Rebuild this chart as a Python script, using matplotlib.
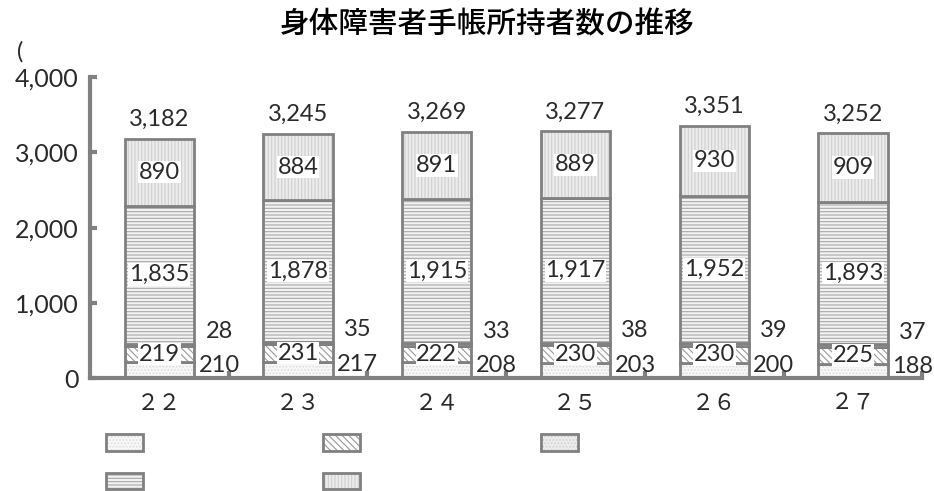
import numpy as np
import matplotlib.pyplot as plt
from matplotlib.patches import Patch

plt.rcParams['font.family'] = ['Lato', 'Noto Sans CJK JP', 'DejaVu Sans']
plt.rcParams['hatch.linewidth'] = 0.8

years = ['２２', '２３', '２４', '２５', '２６', '２７']
seg1 = [210, 217, 208, 203, 200, 188]
seg3 = [28, 35, 33, 38, 39, 37]
seg2 = [219, 231, 222, 230, 230, 225]
seg4 = [1835, 1878, 1915, 1917, 1952, 1893]
seg5 = [890, 884, 891, 889, 930, 909]
totals = [3182, 3245, 3269, 3277, 3351, 3252]

# stacking order from bottom
stack = [seg1, seg2, seg3, seg4, seg5]
faces = ['#f7f7f7', '#ffffff', '#ececec', '#f2f2f2', '#ececec']
hatches = ['.....', '\\\\\\\\\\', '.....', '-----', '|||||']
hcolors = ['#dddddd', '#9a9a9a', '#d0d0d0', '#a8a8a8', '#cfcfcf']
edge = '#808080'
txt = '#2a2a2a'

fig = plt.figure(figsize=(9.34, 4.91), dpi=100)
ax = fig.add_axes([0.0964, 0.230, 0.891, 0.613])

x = np.arange(len(years))
w = 0.5
bottom = np.zeros(len(years))
for vals, fc, hh, hc in zip(stack, faces, hatches, hcolors):
    v = np.array(vals)
    ax.bar(x, v, w, bottom=bottom, color=fc, hatch=hh, edgecolor=hc, linewidth=0)
    ax.bar(x, v, w, bottom=bottom, fill=False, edgecolor=edge, linewidth=2)
    bottom += v

lab = dict(ha='center', va='center', fontsize=17, color=txt)
box = dict(facecolor='white', edgecolor='none', pad=0.5)
b1 = np.array(seg1)
b2 = b1 + np.array(seg2)
b3 = b2 + np.array(seg3)
b4 = b3 + np.array(seg4)
for i in x:
    ax.text(i, b1[i] + seg2[i] / 2, f'{seg2[i]:,}', bbox=box, **lab)
    ax.text(i, b3[i] + seg4[i] / 2, f'{seg4[i]:,}', bbox=box, **lab)
    ax.text(i, b4[i] + seg5[i] / 2, f'{seg5[i]:,}', bbox=box, **lab)
    ax.text(i + 0.43, seg1[i] * 0.82, f'{seg1[i]:,}', **lab)
    ax.text(i + 0.43, b3[i] + 160, f'{seg3[i]:,}', **lab)
    ax.annotate(f'{totals[i]:,}', (i, totals[i]), xytext=(0, 14),
                textcoords='offset points', **lab)

ax.set_xlim(-0.5, len(years) - 0.5)
ax.set_ylim(0, 4000)
ax.set_yticks(range(0, 4001, 1000))
ax.set_yticklabels([f'{v:,}' for v in range(0, 4001, 1000)], fontsize=18, color=txt)
ax.set_xticks(x)
ax.set_xticklabels(years, fontsize=16, color=txt, family=['Noto Sans CJK JP'])
ax.xaxis.set_minor_locator(plt.FixedLocator(np.arange(0.5, len(years), 1.0)))
ax.tick_params(axis='x', which='major', length=0, pad=10)
ax.tick_params(axis='x', which='minor', direction='in', length=5, width=3, color=edge)
ax.tick_params(axis='y', direction='in', length=5, width=3, color=edge, pad=8)
for s in ['top', 'right']:
    ax.spines[s].set_visible(False)
for s in ['left', 'bottom']:
    ax.spines[s].set_color(edge)
    ax.spines[s].set_linewidth(3)

fig.text(0.522, 0.95, '身体障害者手帳所持者数の推移', ha='center', va='center',
         fontsize=21.3, fontweight='medium', family=['Noto Sans CJK JP'])
fig.text(0.018, 0.895, '(', fontsize=17, color=txt, ha='left', va='center')

handles = []
for k in range(5):
    p1 = Patch(facecolor=faces[k], hatch=hatches[k], edgecolor=hcolors[k], linewidth=0)
    p2 = Patch(fill=False, edgecolor=edge, linewidth=2)
    handles.append((p1, p2))
# legend fills columns first: rows are (s1, s2, s3) and (s4, s5)
order = [0, 3, 1, 4, 2]
leg = fig.legend([handles[k] for k in order], [''] * 5, ncol=3, loc='upper left',
                 bbox_to_anchor=(0.106, 0.13), frameon=False, borderpad=0,
                 handlelength=2.66, handleheight=1.44, handletextpad=0,
                 columnspacing=13.0, labelspacing=1.6, fontsize=10)

fig.savefig('out.png', dpi=100)
